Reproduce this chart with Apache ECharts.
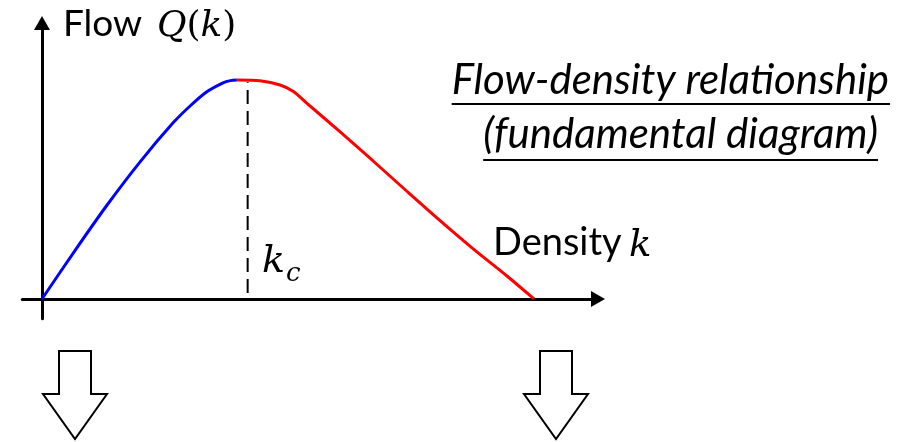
<!DOCTYPE html>
<html>
<head>
<meta charset="utf-8">
<script src="https://cdn.jsdelivr.net/npm/echarts@6/dist/echarts.min.js"></script>
<style>
  html, body { margin: 0; padding: 0; background: #fff; }
  #main { width: 911px; height: 442px; }
</style>
</head>
<body>
<div id="main"></div>
<script>
// density k (0 .. jam density 100) and flow Q (capacity = 100)
var blueK = [0, 6.7, 13.2, 19.9, 26.6, 30.1, 33.5, 36.8, 38.3, 39.6];
var blueQ = [0, 22.1, 42.8, 62.5, 80.3, 88.1, 94.6, 98.7, 99.7, 100];
var redK = [39.6, 44.3, 48.4, 51.1, 53.8, 60.6, 67.3, 74.1, 80.9, 87.7, 94.5, 100];
var redQ = [100, 99.6, 97.7, 94.7, 89.4, 76.3, 63.0, 49.3, 35.8, 22.8, 10.5, 0];
var kc = 41.8;
var dashQ = [2.7, 99];
var titleLines = ['Flow-density relationship', '(fundamental diagram)'];

function zip(a, b) {
    return a.map(function (v, i) { return [v, b[i]]; });
}

var TITLE_FONT = 'italic 42px Lato';
var MATH_I = 'italic 36px "DejaVu Serif"';

// text widths for the underlines
var ctx = document.createElement('canvas').getContext('2d');
ctx.font = TITLE_FONT;
var w1 = ctx.measureText(titleLines[0]).width;
var w2 = ctx.measureText(titleLines[1]).width;
var r1 = 889, r2 = 878;

// hollow down arrow, centred on cx
function downArrow(cx) {
    return {
        type: 'polygon',
        shape: {
            points: [
                [cx - 16, 351], [cx + 16, 351], [cx + 16, 394], [cx + 32, 394],
                [cx, 439], [cx - 32, 394], [cx - 16, 394]
            ]
        },
        style: { fill: '#fff', stroke: '#000', lineWidth: 2 }
    };
}

function txt(x, y, text, font) {
    return { type: 'text', left: x, top: y, style: { text: text, font: font, fill: '#000' } };
}

var chart = echarts.init(document.getElementById('main'));
var option = {
    animation: false,
    grid: { left: 22.3, right: 313, top: 23, bottom: 123.3 },
    xAxis: {
        type: 'value', min: -4, max: 113,
        axisLine: {
            show: true, onZero: true,
            symbol: ['none', 'triangle'], symbolSize: [16, 14],
            lineStyle: { color: '#000', width: 3 }
        },
        axisTick: { show: false }, axisLabel: { show: false }, splitLine: { show: false }
    },
    yAxis: {
        type: 'value', min: -9, max: 126,
        axisLine: {
            show: true, onZero: true,
            symbol: ['none', 'triangle'], symbolSize: [16, 14],
            lineStyle: { color: '#000', width: 3 }
        },
        axisTick: { show: false }, axisLabel: { show: false }, splitLine: { show: false }
    },
    series: [
        {
            type: 'line', data: zip([kc, kc], dashQ), symbol: 'none',
            lineStyle: { color: '#000', width: 2, type: [14, 7] }
        },
        {
            type: 'line', data: zip(blueK, blueQ), symbol: 'none', smooth: 0.3,
            lineStyle: { color: '#0000ff', width: 3 }
        },
        {
            type: 'line', data: zip(redK, redQ), symbol: 'none', smooth: 0.3,
            lineStyle: { color: '#ff0000', width: 3 }
        }
    ],
    graphic: [
        txt(63, 6, 'Flow', '37px Lato'),
        {
            type: 'text', left: 157, top: 9,
            style: {
                text: '{m|Q}{p|(}{m|k}{p|)}',
                rich: {
                    m: { font: MATH_I, fill: '#000' },
                    p: { font: '36px "DejaVu Serif"', fill: '#000' }
                }
            }
        },
        txt(493, 224, 'Density', '38px Lato'),
        txt(629, 228, 'k', 'italic 37px "DejaVu Serif"'),
        txt(262, 243, 'k', 'italic 38px "DejaVu Serif"'),
        txt(286, 261, 'c', 'italic 26px "DejaVu Serif"'),
        {
            type: 'text', right: 911 - r1, top: 59,
            style: { text: titleLines[0], font: TITLE_FONT, fill: '#000' }
        },
        {
            type: 'text', right: 911 - r2, top: 113,
            style: { text: titleLines[1], font: TITLE_FONT, fill: '#000' }
        },
        {
            type: 'line', shape: { x1: r1 - w1, y1: 104, x2: r1 + 1, y2: 104 },
            style: { stroke: '#000', lineWidth: 2 }
        },
        {
            type: 'line', shape: { x1: r2 - w2, y1: 160, x2: r2, y2: 160 },
            style: { stroke: '#000', lineWidth: 2 }
        },
        downArrow(75),
        downArrow(556)
    ]
};
chart.setOption(option);
</script>
</body>
</html>
